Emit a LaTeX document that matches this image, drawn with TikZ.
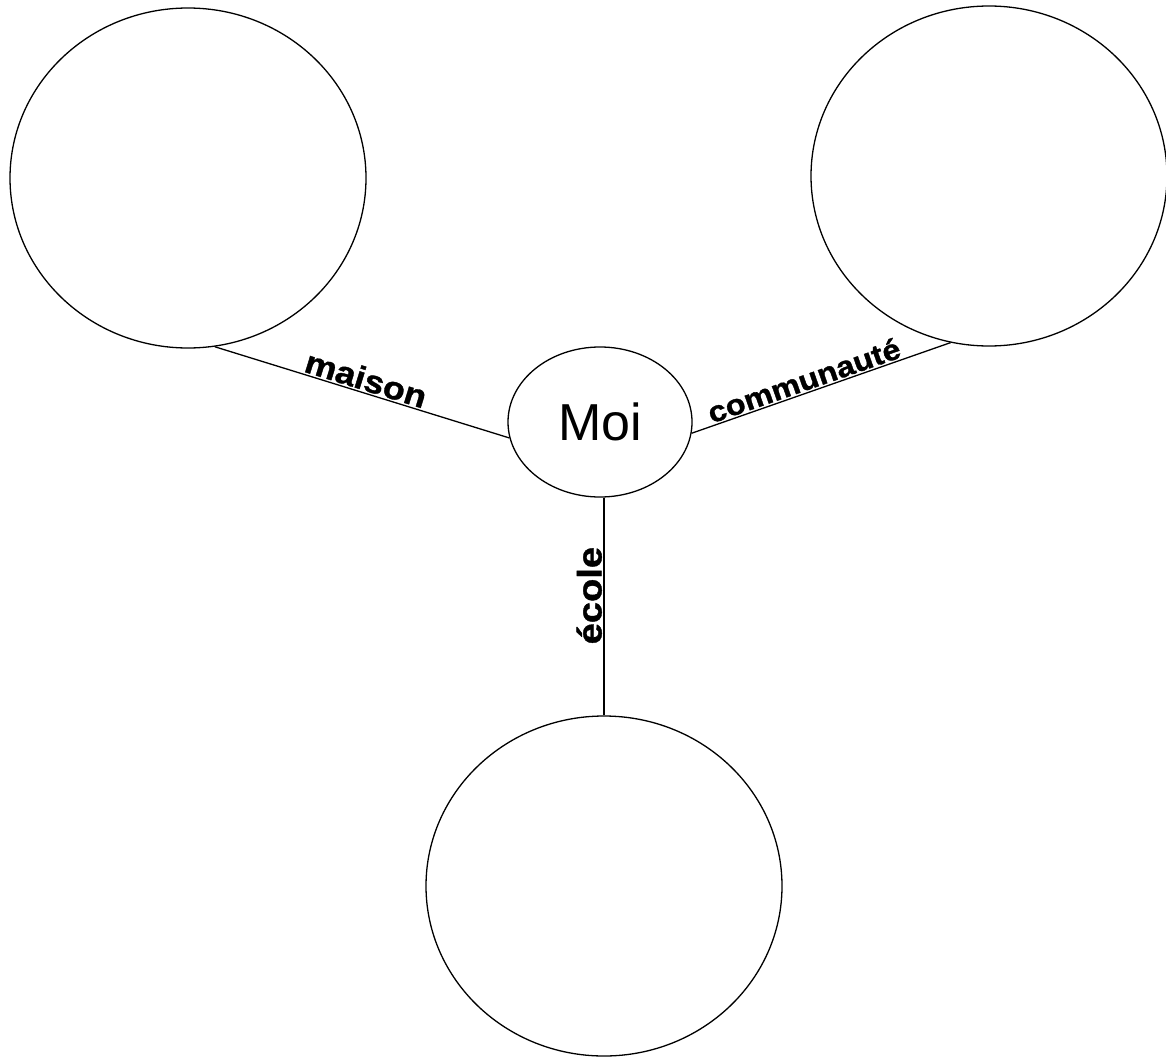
\documentclass[tikz,border=0pt]{standalone}
\usepackage{fontspec}
\setmainfont{Liberation Sans}
\newfontfamily\lblfont[FakeStretch=1.12, FakeBold=1.2]{Liberation Sans Bold}
\usetikzlibrary{shapes.geometric}

\begin{document}
\begin{tikzpicture}[x=1pt, y=-1pt, line width=1.3pt,
    bubble/.style={draw, ellipse, inner sep=0pt, minimum width=356pt, minimum height=340pt},
    lbl/.style={font=\lblfont\fontsize{#1}{#1}\selectfont, sloped, above, inner sep=1.5pt}]

    \useasboundingbox (0, 0) rectangle (1166, 1057);

    \node[bubble] (maison) at (188, 178) {};
    \node[bubble] (communaute) at (989, 176) {};
    \node[bubble] (ecole) at (604, 886) {};
    \node[draw, ellipse, inner sep=0pt, minimum width=184pt, minimum height=150pt,
          font=\fontsize{52}{52}\selectfont] (moi) at (600, 422) {Moi};

    \draw (maison.-81) -- (moi.190) node[lbl=32, midway] {maison};
    \draw (moi.-7) -- (communaute.-103) node[lbl=29, pos=0.45] {communauté};
    \draw (ecole.north) -- (ecole.north |- moi.south) node[lbl=34, pos=0.55] {école};

\end{tikzpicture}
\end{document}
